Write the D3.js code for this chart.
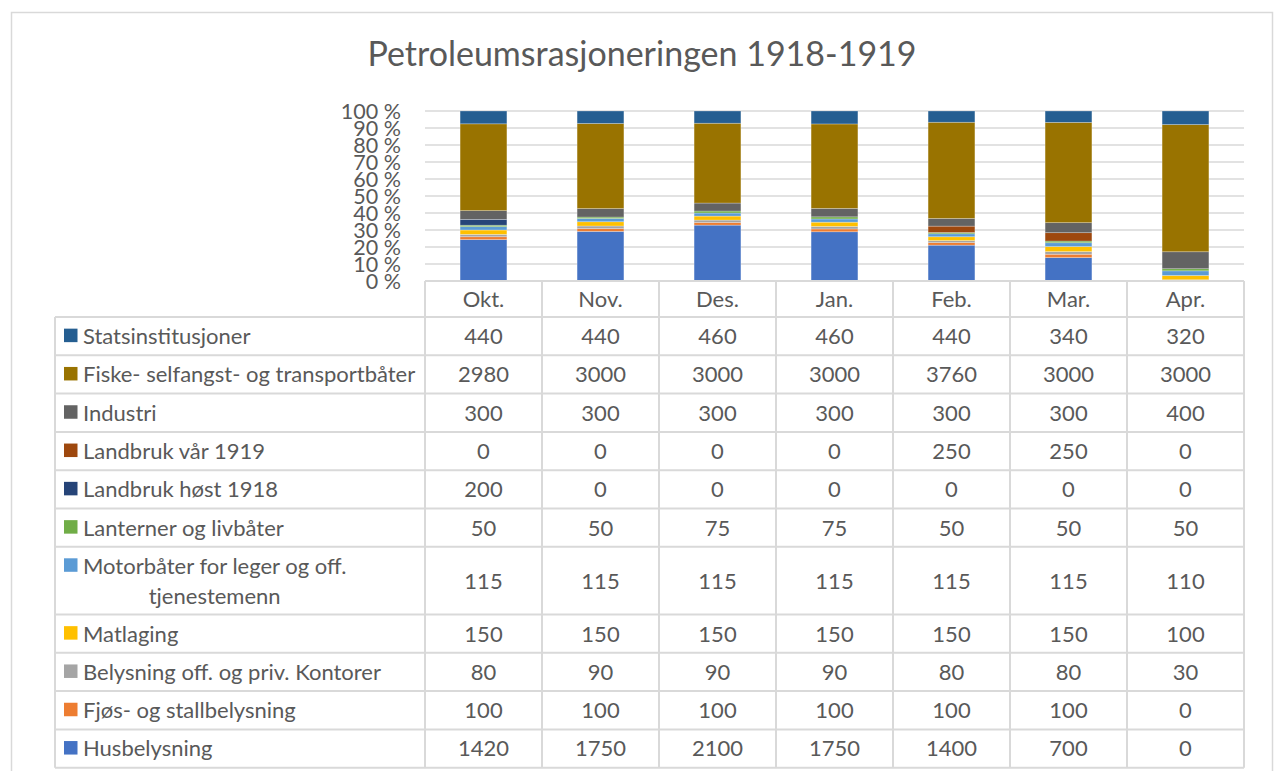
<!DOCTYPE html>
<html>
<head>
<meta charset="utf-8">
<script src="https://cdn.jsdelivr.net/npm/d3@7"></script>
<style>
  html, body { margin: 0; padding: 0; background: #fff; }
  svg { display: block; }
  text { font-family: Lato, "Open Sans", sans-serif; fill: #595959; }
</style>
</head>
<body>
<svg id="chart" width="1274" height="771"></svg>
<script>
const title = "Petroleumsrasjoneringen 1918-1919";
const categories = ["Okt.", "Nov.", "Des.", "Jan.", "Feb.", "Mar.", "Apr."];
const tickLabels = ["0 %", "10 %", "20 %", "30 %", "40 %", "50 %", "60 %", "70 %", "80 %", "90 %", "100 %"];

// series in stacking order (bottom -> top)
const seriesNames = [
  "Husbelysning",
  "Fjøs- og stallbelysning",
  "Belysning off. og priv. Kontorer",
  "Matlaging",
  "Motorbåter for leger og off. tjenestemenn",
  "Lanterner og livbåter",
  "Landbruk høst 1918",
  "Landbruk vår 1919",
  "Industri",
  "Fiske- selfangst- og transportbåter",
  "Statsinstitusjoner"
];
const husbelysning      = [1420, 1750, 2100, 1750, 1400, 700, 0];
const fjos              = [100, 100, 100, 100, 100, 100, 0];
const belysningKontor   = [80, 90, 90, 90, 80, 80, 30];
const matlaging         = [150, 150, 150, 150, 150, 150, 100];
const motorbater        = [115, 115, 115, 115, 115, 115, 110];
const lanterner         = [50, 50, 75, 75, 50, 50, 50];
const landbrukHost1918  = [200, 0, 0, 0, 0, 0, 0];
const landbrukVar1919   = [0, 0, 0, 0, 250, 250, 0];
const industri          = [300, 300, 300, 300, 300, 300, 400];
const fiske             = [2980, 3000, 3000, 3000, 3760, 3000, 3000];
const statsinstitusjoner= [440, 440, 460, 460, 440, 340, 320];

const seriesValues = [husbelysning, fjos, belysningKontor, matlaging, motorbater,
  lanterner, landbrukHost1918, landbrukVar1919, industri, fiske, statsinstitusjoner];
const colors = ["#4472C4", "#ED7D31", "#A5A5A5", "#FFC000", "#5B9BD5", "#70AD47",
  "#264478", "#9E480E", "#636363", "#997300", "#255E91"];

// build table rows for d3.stack
const rows = categories.map((c, i) => {
  const r = { cat: c };
  seriesNames.forEach((s, k) => r[s] = seriesValues[k][i]);
  return r;
});

const svg = d3.select("#chart");
const gridColor = "#d9d9d9";
const fs = "22px";

// outer chart border
svg.append("rect").attr("x", 11.5).attr("y", 12.5).attr("width", 1261).attr("height", 800)
  .attr("fill", "#fff").attr("stroke", gridColor).attr("stroke-width", 1.5);

// title
svg.append("text").attr("x", 642).attr("y", 66).attr("text-anchor", "middle")
  .style("font-size", "34px").style("font-weight", 400).text(title);

const plotLeft = 425, plotRight = 1244, plotTop = 111, plotBottom = 281;
const x = d3.scaleBand().domain(categories).range([plotLeft, plotRight])
  .paddingInner(0.6).paddingOuter(0.3);
const colX = d3.scaleBand().domain(categories).range([plotLeft, plotRight]);
const y = d3.scaleLinear().domain([0, 1]).range([plotBottom, plotTop]);

// gridlines
const ticks = d3.range(0, 11).map(d => d / 10);
svg.append("g").selectAll("line").data(ticks.slice(1)).join("line")
  .attr("x1", plotLeft).attr("x2", plotRight)
  .attr("y1", d => y(d)).attr("y2", d => y(d))
  .attr("stroke", gridColor).attr("stroke-width", 1.5);

// y axis labels
const yAxis = d3.axisLeft(y).tickValues(ticks).tickSize(0).tickPadding(0)
  .tickFormat((d, i) => tickLabels[i]);
const ya = svg.append("g").attr("transform", `translate(401,0)`).call(yAxis);
ya.select(".domain").remove();
ya.selectAll("text").attr("fill", "#595959").style("font-size", "21.5px")
  .style("font-family", "Lato, 'Open Sans', sans-serif").attr("dy", "0.36em");

// stacked 100% bars
const stack = d3.stack().keys(seriesNames).offset(d3.stackOffsetExpand);
const stacked = stack(rows);
svg.append("g").selectAll("g").data(stacked).join("g")
  .attr("fill", (d, i) => colors[i])
  .selectAll("rect").data(d => d).join("rect")
  .attr("x", d => x(d.data.cat))
  .attr("width", x.bandwidth())
  .attr("y", d => y(d[1]))
  .attr("height", d => Math.max(0, y(d[0]) - y(d[1])))
  .attr("stroke", "#ffffff").attr("stroke-opacity", 0.35).attr("stroke-width", 0.75);

// data table
const tableLeft = 55, tableTop = 317;
const rowH = 38.3, doubleH = 67.7;
const tableSeries = seriesNames.map((s, k) => ({ name: s, values: seriesValues[k], color: colors[k] })).reverse();
let yy = tableTop;
tableSeries.forEach(r => {
  r.top = yy;
  r.h = r.name.startsWith("Motorbåter") ? doubleH : rowH;
  yy += r.h;
});
const tableBottom = yy;

const tg = svg.append("g");
tg.append("line").attr("x1", plotLeft).attr("x2", plotRight).attr("y1", plotBottom).attr("y2", plotBottom)
  .attr("stroke", gridColor).attr("stroke-width", 2);
const hLines = [tableTop].concat(tableSeries.map(r => r.top + r.h));
tg.selectAll("line.h").data(hLines).join("line").attr("class", "h")
  .attr("x1", tableLeft).attr("x2", plotRight).attr("y1", d => d).attr("y2", d => d)
  .attr("stroke", gridColor).attr("stroke-width", 2);
const vLines = categories.map(c => colX(c)).concat([plotRight]);
tg.selectAll("line.v").data(vLines).join("line").attr("class", "v")
  .attr("x1", d => d).attr("x2", d => d).attr("y1", plotBottom).attr("y2", tableBottom)
  .attr("stroke", gridColor).attr("stroke-width", 2);
tg.append("line").attr("x1", tableLeft).attr("x2", tableLeft).attr("y1", tableTop).attr("y2", tableBottom)
  .attr("stroke", gridColor).attr("stroke-width", 2);

// header labels
tg.selectAll("text.cat").data(categories).join("text").attr("class", "cat")
  .attr("x", d => colX(d) + colX.bandwidth() / 2).attr("y", (plotBottom + tableTop) / 2)
  .attr("dy", "0.36em").attr("text-anchor", "middle").style("font-size", fs).text(d => d);

// table rows
tableSeries.forEach(r => {
  const g = tg.append("g");
  const isDouble = r.h > rowH + 1;
  const line1Y = isDouble ? r.top + 19 : r.top + r.h / 2;
  g.append("rect").attr("x", 64).attr("y", line1Y - 7.5).attr("width", 13.5).attr("height", 13.5)
    .attr("fill", r.color);
  if (isDouble) {
    const t1 = g.append("text").attr("x", 83).attr("y", line1Y).attr("dy", "0.36em")
      .style("font-size", fs).text("Motorbåter for leger og off.");
    const w = t1.node().getComputedTextLength();
    g.append("text").attr("x", 83 + w / 2).attr("y", line1Y + 30).attr("dy", "0.36em")
      .attr("text-anchor", "middle").style("font-size", fs).text("tjenestemenn");
  } else {
    g.append("text").attr("x", 83).attr("y", line1Y).attr("dy", "0.36em")
      .style("font-size", fs).text(r.name);
  }
  g.selectAll("text.val").data(r.values).join("text").attr("class", "val")
    .attr("x", (d, i) => colX(categories[i]) + colX.bandwidth() / 2)
    .attr("y", r.top + r.h / 2).attr("dy", "0.36em").attr("text-anchor", "middle")
    .style("font-size", fs).text(d => d);
});
</script>
</body>
</html>
